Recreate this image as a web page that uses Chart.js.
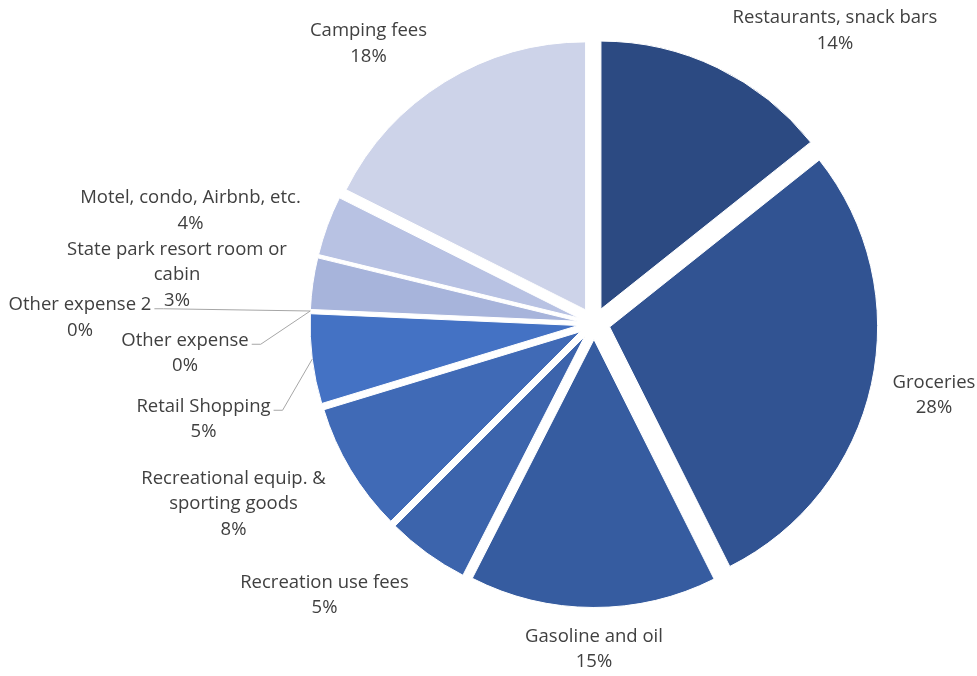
<!DOCTYPE html>
<html>
<head>
<meta charset="utf-8">
<title>Trip spending by category</title>
<script src="https://cdn.jsdelivr.net/npm/chart.js@4.4.1/dist/chart.umd.min.js"></script>
<style>
  html, body { margin: 0; padding: 0; background: #ffffff; }
  #wrap { width: 977px; height: 676px; position: relative; }
</style>
</head>
<body>
<div id="wrap"><canvas id="pie"></canvas></div>
<script>
// Spending categories, clockwise from 12 o'clock
const categories = [
  'Restaurants, snack bars',
  'Groceries',
  'Gasoline and oil',
  'Recreation use fees',
  ['Recreational equip. &', 'sporting goods'],
  'Retail Shopping',
  'Other expense',
  'Other expense 2',
  ['State park resort room or', 'cabin'],
  'Motel, condo, Airbnb, etc.',
  'Camping fees'
];

// Share of total spending, percent
const shares = [14.3, 28.3, 14.9, 5.0, 7.8, 5.4, 0, 0, 3.1, 3.6, 17.6];

const sliceColors = [
  '#2C4A82', '#315392', '#365CA0', '#3C64AC', '#406AB6', '#4472C4',
  '#6F8FCF', '#8EA5D6', '#A7B4DB', '#B8C2E3', '#CDD3E9'
];

// Label block centres, measured from the pie centre (px)
const labelPlacement = [
  [241, -293], [340, 71.5], [0, 325.5], [-269.5, 271.5], [-360.5, 180.5],
  [-390.5, 95.5], [-409, 29.5], [-514, -6], [-417, -48.5], [-403.5, -113],
  [-225.5, -280]
];
// Labels that get a leader line back to their slice
const leaderLabels = [5, 6, 7];

const EXPLODE = 16;      // outward shift of every slice
const PIE_RADIUS = 268;
const LINE_H = 25.5;
const LABEL_FONT = '18.5px "Open Sans", "Noto Sans", sans-serif';

// Draw each slice pushed out along its own bisector
const explodePlugin = {
  id: 'explode',
  beforeDatasetDraw(chart, args) {
    const ctx = chart.ctx;
    args.meta.data.forEach(arc => {
      if (arc.circumference === 0) return;
      const mid = (arc.startAngle + arc.endAngle) / 2;
      ctx.save();
      ctx.translate(Math.cos(mid) * EXPLODE, Math.sin(mid) * EXPLODE);
      arc.draw(ctx);
      ctx.restore();
    });
    return false;
  }
};

// Category name plus rounded percentage outside each slice
const labelPlugin = {
  id: 'sliceLabels',
  afterDatasetsDraw(chart) {
    const ctx = chart.ctx;
    const meta = chart.getDatasetMeta(0);
    const total = shares.reduce((a, b) => a + b, 0);
    ctx.save();
    ctx.font = LABEL_FONT;
    ctx.textAlign = 'center';
    ctx.textBaseline = 'middle';
    meta.data.forEach((arc, i) => {
      const name = categories[i];
      const lines = (Array.isArray(name) ? name.slice() : [name]);
      lines.push(Math.round(shares[i] / total * 100) + '%');
      const bx = arc.x + labelPlacement[i][0];
      const by = arc.y + labelPlacement[i][1];
      const top = by - (lines.length - 1) * LINE_H / 2;
      ctx.fillStyle = '#404040';
      lines.forEach((t, k) => ctx.fillText(t, bx, top + k * LINE_H));
      if (leaderLabels.includes(i)) {
        const w = ctx.measureText(lines[0]).width;
        const sx = bx + w / 2 + 3;
        const sy = top + 4;
        const mid = (arc.startAngle + arc.endAngle) / 2;
        const r = arc.outerRadius + EXPLODE;
        const ex = arc.x + Math.cos(mid) * r;
        const ey = arc.y + Math.sin(mid) * r;
        ctx.beginPath();
        ctx.moveTo(sx, sy);
        ctx.lineTo(sx + 9, sy);
        ctx.lineTo(ex, ey);
        ctx.strokeStyle = '#A6A6A6';
        ctx.lineWidth = 1;
        ctx.stroke();
      }
    });
    ctx.restore();
  }
};

new Chart(document.getElementById('pie'), {
  type: 'pie',
  data: {
    labels: categories,
    datasets: [{
      data: shares,
      backgroundColor: sliceColors,
      borderColor: '#ffffff',
      borderWidth: 1
    }]
  },
  options: {
    responsive: true,
    maintainAspectRatio: false,
    animation: false,
    radius: PIE_RADIUS,
    layout: { padding: { left: 221, right: 10, top: 0, bottom: 29 } },
    plugins: {
      legend: { display: false },
      tooltip: { enabled: false }
    }
  },
  plugins: [explodePlugin, labelPlugin]
});
</script>
</body>
</html>
